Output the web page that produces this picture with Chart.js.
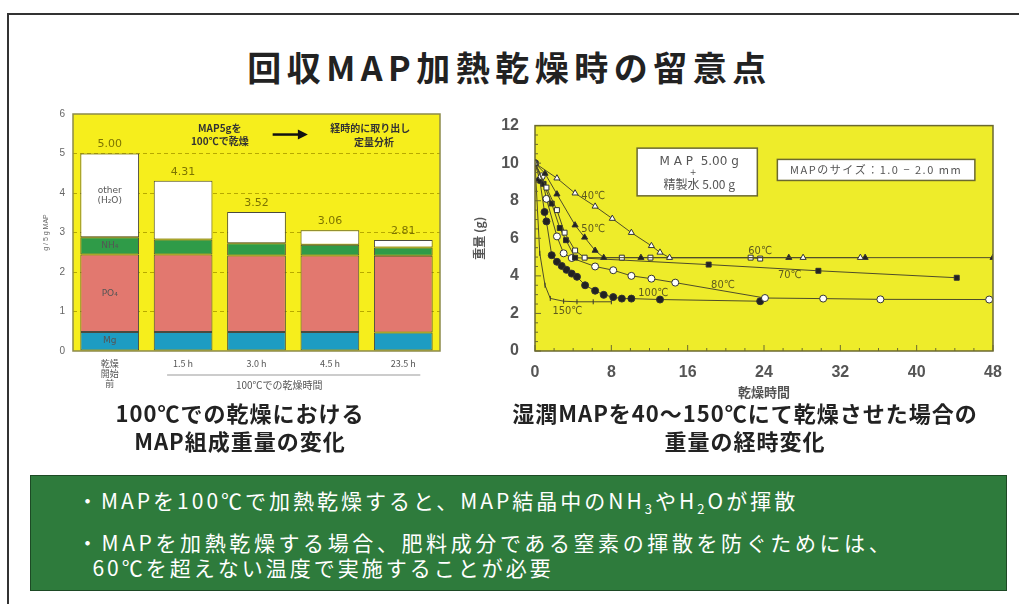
<!DOCTYPE html>
<html>
<head>
<meta charset="utf-8">
<script src="https://cdn.jsdelivr.net/npm/chart.js@4.4.1/dist/chart.umd.min.js"></script>
<style>
  body { margin: 0; width: 1019px; height: 604px; background: #fff; position: relative; overflow: hidden;
         font-family: "Noto Sans CJK JP", "Noto Sans", sans-serif; }
  #frame { position: absolute; left: 7px; top: 13px; width: 1100px; height: 700px;
           border-left: 2px solid #333; border-top: 2px solid #333; }
  #title { position: absolute; top: 42px; left: 0; width: 1019px; text-align: center;
           font-size: 34px; font-weight: bold; letter-spacing: 5.5px; color: #222; }
  .cap { position: absolute; top: 398px; text-align: center; font-size: 22px; line-height: 28px;
         font-weight: bold; letter-spacing: 1px; color: #222; }
  #box { position: absolute; left: 30px; top: 475px; width: 975px; height: 114px; background: #2e7b3c;
         border: 1px solid #1d4a25; color: #fff; font-size: 21px; letter-spacing: 3px; }
  #box p { margin: 0; position: absolute; left: 46px; line-height: 24px; white-space: nowrap; }
  canvas { position: absolute; top: 100px; }
</style>
</head>
<body>
<div id="frame"></div>
<div id="title">回収MAP加熱乾燥時の留意点</div>

<canvas id="barChart" width="430" height="300" style="left:20px"></canvas>
<canvas id="lineChart" width="545" height="300" style="left:470px"></canvas>

<div class="cap" style="left:80px;width:320px">100℃での乾燥における<br>MAP組成重量の変化</div>
<div class="cap" style="left:470px;width:550px">湿潤MAPを40～150℃にて乾燥させた場合の<br>重量の経時変化</div>

<div id="box">
  <p style="top:12px">・MAPを100℃で加熱乾燥すると、MAP結晶中のNH<sub style="font-size:13px">3</sub>やH<sub style="font-size:13px">2</sub>Oが揮散</p>
  <p style="top:54px;letter-spacing:3.6px">・MAPを加熱乾燥する場合、肥料成分である窒素の揮散を防ぐためには、</p>
  <p style="top:79px">&nbsp;&nbsp;60℃を超えない温度で実施することが必要</p>
</div>

<script>
// 左: 100℃乾燥での組成重量 (g / 5 g MAP)
const barLabels = [['乾燥', '開始', '前'], '1.5 h', '3.0 h', '4.5 h', '23.5 h'];
const mgVals    = [0.48, 0.48, 0.48, 0.48, 0.47];
const po4Vals   = [1.96, 1.96, 1.94, 1.94, 1.94];
const nh4Vals   = [0.44, 0.38, 0.31, 0.27, 0.21];
const otherVals = [2.12, 1.49, 0.79, 0.37, 0.19];
const totalVals = [5.00, 4.31, 3.52, 3.06, 2.81];

// 右: 乾燥時間 (h) と重量 (g)
const t40  = [0, 2.3, 4.2, 6.3, 8.1, 10.1, 12.2, 13.1, 14.1, 28.1, 34.1];
const w40  = [10, 9.2, 8.4, 7.7, 7.05, 6.3, 5.6, 5.25, 4.97, 4.97, 4.97];
const t50  = [0, 1.05, 2.3, 4.2, 5.2, 6.3, 7.2, 11.1, 26.6, 34.6, 48];
const w50  = [10, 9.45, 8.35, 6.7, 6.05, 5.35, 4.97, 4.97, 4.97, 4.97, 4.97];
const t60  = [0, 1.2, 2.3, 3.1, 4.2, 5.2, 9.1, 12.1, 22.6, 23.6];
const w60  = [10, 8.7, 7.5, 6.3, 5.35, 4.97, 4.97, 4.97, 4.97, 4.92];
const t70  = [0, 0.9, 1.75, 2.6, 3.25, 4.2, 18.2, 29.7, 44.2];
const w70  = [10, 8.9, 7.85, 6.55, 5.9, 4.97, 4.6, 4.27, 3.9];
const t80  = [0, 0.7, 1.2, 2.3, 3.0, 3.85, 6.3, 8.2, 10.1, 12.2, 14.7, 24.1, 30.2, 36.2, 47.6];
const w80  = [10, 9.3, 8.1, 6.1, 5.2, 4.95, 4.5, 4.3, 4.0, 3.85, 3.64, 2.82, 2.79, 2.75, 2.74];
const t100 = [0, 0.5, 1.0, 1.2, 1.75, 2.3, 2.8, 3.3, 3.85, 4.4, 5.25, 6.3, 7.2, 8.2, 9.1, 10.1, 13.1, 23.6];
const w100 = [10, 9.1, 7.4, 6.9, 5.1, 4.75, 4.53, 4.32, 4.12, 3.95, 3.5, 3.21, 2.99, 2.87, 2.79, 2.79, 2.74, 2.65];
const t150 = [0, 0.5, 1.05, 1.6, 3.0, 4.4, 6.1, 8.0];
const w150 = [10, 5.2, 3.5, 2.8, 2.65, 2.62, 2.62, 2.62];

const pts = (t, w) => t.map((x, i) => ({ x: x, y: w[i] }));

// 背景の黄色と枠
const plotBg = {
    id: 'plotBg',
    beforeDraw(chart, args, opts) {
        const { ctx, chartArea: a } = chart;
        ctx.save();
        ctx.fillStyle = opts.color;
        ctx.fillRect(a.left, a.top, a.right - a.left, a.bottom - a.top);
        ctx.restore();
    },
    afterDatasetsDraw(chart, args, opts) {
        const { ctx, chartArea: a } = chart;
        ctx.save();
        ctx.strokeStyle = opts.frame;
        ctx.lineWidth = 1.5;
        ctx.strokeRect(a.left, a.top, a.right - a.left, a.bottom - a.top);
        ctx.restore();
    }
};

const barNotes = {
    id: 'barNotes',
    afterDatasetsDraw(chart) {
        const { ctx, scales: { x, y }, chartArea: a } = chart;
        ctx.save();
        ctx.textAlign = 'center';
        ctx.textBaseline = 'middle';
        // 合計値
        ctx.font = '11px "DejaVu Sans", sans-serif';
        ctx.fillStyle = '#7d7400';
        totalVals.forEach((v, i) => {
            ctx.fillText(v.toFixed(2), x.getPixelForValue(i), y.getPixelForValue(v) - 9);
        });
        // 成分名 (1本目)
        ctx.font = '9px "DejaVu Sans", sans-serif';
        ctx.fillStyle = '#555';
        const cx = x.getPixelForValue(0);
        ctx.fillText('other', cx, y.getPixelForValue(4.05));
        ctx.fillText('(H₂O)', cx, y.getPixelForValue(3.8));
        ctx.fillText('NH₄', cx, y.getPixelForValue(2.66));
        ctx.fillText('PO₄', cx, y.getPixelForValue(1.45));
        ctx.fillText('Mg', cx, y.getPixelForValue(0.25));
        // 上部の説明
        ctx.font = 'bold 10px "Noto Sans CJK JP", sans-serif';
        ctx.fillStyle = '#333';
        ctx.fillText('MAP5gを', x.getPixelForValue(1.5), y.getPixelForValue(5.65));
        ctx.fillText('100℃で乾燥', x.getPixelForValue(1.5), y.getPixelForValue(5.3));
        ctx.fillText('経時的に取り出し', x.getPixelForValue(3.55), y.getPixelForValue(5.63));
        ctx.fillText('定量分析', x.getPixelForValue(3.6), y.getPixelForValue(5.28));
        // 矢印
        const ay = y.getPixelForValue(5.48);
        const ax0 = x.getPixelForValue(2.22), ax1 = x.getPixelForValue(2.7);
        ctx.strokeStyle = '#111';
        ctx.fillStyle = '#111';
        ctx.lineWidth = 2.5;
        ctx.beginPath(); ctx.moveTo(ax0, ay); ctx.lineTo(ax1 - 8, ay); ctx.stroke();
        ctx.beginPath(); ctx.moveTo(ax1, ay); ctx.lineTo(ax1 - 10, ay - 5); ctx.lineTo(ax1 - 10, ay + 5); ctx.closePath(); ctx.fill();
        // 100℃での乾燥時間
        const ly = a.bottom + 24;
        ctx.strokeStyle = '#999';
        ctx.lineWidth = 1;
        ctx.beginPath();
        ctx.moveTo(x.getPixelForValue(1) - 16, ly);
        ctx.lineTo(x.getPixelForValue(4) + 17, ly);
        ctx.stroke();
        ctx.font = '10px "Noto Sans CJK JP", sans-serif';
        ctx.fillStyle = '#555';
        ctx.fillText('100℃での乾燥時間', x.getPixelForValue(2.5) - 14, ly + 10);
        ctx.restore();
    }
};

new Chart(document.getElementById('barChart'), {
    type: 'bar',
    data: {
        labels: barLabels,
        datasets: [
            { label: 'Mg', data: mgVals, backgroundColor: '#1d9cc2' },
            { label: 'PO4', data: po4Vals, backgroundColor: '#e2786f' },
            { label: 'NH4', data: nh4Vals, backgroundColor: '#2f9b48' },
            { label: 'other', data: otherVals, backgroundColor: '#ffffff' }
        ].map(d => Object.assign(d, { borderColor: '#4a4a40', borderWidth: 1, borderSkipped: false,
                                      barPercentage: 0.8, categoryPercentage: 1 }))
    },
    options: {
        responsive: false,
        animation: false,
        layout: { padding: { top: 13, right: 10 } },
        plugins: { legend: { display: false }, tooltip: { enabled: false },
                   plotBg: { color: '#f6ee1c', frame: '#8c8a4a' } },
        scales: {
            x: {
                stacked: true,
                grid: { display: false, drawTicks: false },
                border: { display: false },
                ticks: { color: '#555', padding: 7, font: { size: 9, lineHeight: 1.15, family: '"Noto Sans CJK JP"' },
                         maxRotation: 0, autoSkip: false },
                afterFit(s) { s.height = 49; }
            },
            y: {
                stacked: true, min: 0, max: 6,
                grid: { color: ctx => (ctx.tick.value > 0 && ctx.tick.value < 6) ? '#b7a900' : 'rgba(0,0,0,0)', drawTicks: false },
                border: { display: false, dash: [4, 3] },
                ticks: { stepSize: 1, color: '#666', padding: 8, font: { size: 10 } },
                title: { display: true, text: 'g / 5 g MAP', color: '#666', font: { size: 7 }, padding: { top: 22, bottom: 0 } },
                afterFit(s) { s.width = 53; }
            }
        }
    },
    plugins: [plotBg, barNotes]
});

const lineNotes = {
    id: 'lineNotes',
    afterDatasetsDraw(chart) {
        const { ctx, scales: { x, y }, chartArea: a } = chart;
        ctx.save();
        // 内向きの目盛り
        ctx.strokeStyle = '#6b6930';
        ctx.lineWidth = 1;
        for (let h = 0; h <= 48; h += 2) {
            const px = x.getPixelForValue(h), len = h % 8 === 0 ? 6 : 3;
            ctx.beginPath(); ctx.moveTo(px, a.bottom); ctx.lineTo(px, a.bottom - len); ctx.stroke();
        }
        for (let g = 0; g <= 12; g += 0.5) {
            const py = y.getPixelForValue(g), len = g % 2 === 0 ? 6 : 3;
            ctx.beginPath(); ctx.moveTo(a.left, py); ctx.lineTo(a.left + len, py); ctx.stroke();
        }
        // 温度ラベル
        ctx.font = '11px "DejaVu Sans Condensed", sans-serif';
        ctx.fillStyle = '#5e5a1e';
        ctx.textAlign = 'center';
        ctx.textBaseline = 'middle';
        [['40℃', 6.1, 8.26], ['50℃', 6.1, 6.5], ['60℃', 23.6, 5.33], ['70℃', 26.7, 4.05],
         ['80℃', 19.7, 3.5], ['100℃', 12.4, 3.08], ['150℃', 3.4, 2.1]].forEach(l => {
            ctx.fillText(l[0], x.getPixelForValue(l[1]), y.getPixelForValue(l[2]));
        });
        // 注記ボックス
        const box = (x0, x1, y0, y1) => {
            const l = x.getPixelForValue(x0), r = x.getPixelForValue(x1);
            const t = y.getPixelForValue(y0), b = y.getPixelForValue(y1);
            ctx.fillStyle = '#fff';
            ctx.fillRect(l, t, r - l, b - t);
            ctx.strokeStyle = '#6b6930';
            ctx.lineWidth = 1.5;
            ctx.strokeRect(l, t, r - l, b - t);
            ctx.fillStyle = '#555';
            return { c: (l + r) / 2, t: t, b: b };
        };
        const b1 = box(10.7, 23.3, 10.8, 8.26);
        ctx.font = '12px "DejaVu Sans", sans-serif';
        ctx.fillText('M A P  5.00 g', b1.c + 2, b1.t + 14);
        ctx.font = '8px "DejaVu Sans", sans-serif';
        ctx.fillText('+', b1.c - 4, b1.t + 25);
        ctx.font = '12px "Noto Sans CJK JP", sans-serif';
        ctx.fillText('精製水 5.00 g', b1.c + 2, b1.t + 36);
        const b2 = box(25.4, 46.1, 10.2, 9.08);
        ctx.font = '11px "Noto Sans CJK JP", sans-serif';
        ctx.letterSpacing = '1.5px';
        ctx.fillText('MAPのサイズ：1.0 − 2.0 mm', b2.c, (b2.t + b2.b) / 2);
        ctx.restore();
    }
};

const lineCol = '#4e4c2a';
const series = (label, t, w, style, fill, r) => ({
    label: label, data: pts(t, w), borderColor: lineCol, borderWidth: 1,
    pointStyle: style, pointRadius: r || 3.5, pointBackgroundColor: fill,
    pointBorderColor: '#333', pointBorderWidth: 1, tension: 0
});

new Chart(document.getElementById('lineChart'), {
    type: 'line',
    data: {
        datasets: [
            series('40℃', t40, w40, 'triangle', '#fff'),
            series('50℃', t50, w50, 'triangle', '#222'),
            series('60℃', t60, w60, 'rect', '#fff'),
            series('70℃', t70, w70, 'rect', '#222'),
            series('80℃', t80, w80, 'circle', '#fff'),
            series('100℃', t100, w100, 'circle', '#222'),
            Object.assign(series('150℃', t150, w150, 'line', '#333', 2.5), { pointRotation: 90 })
        ]
    },
    options: {
        responsive: false,
        animation: false,
        layout: { padding: { top: 17, right: 22 } },
        plugins: { legend: { display: false }, tooltip: { enabled: false },
                   plotBg: { color: '#eeec2a', frame: '#6b6930' } },
        scales: {
            x: {
                type: 'linear', min: 0, max: 48,
                grid: { display: false, drawTicks: false },
                border: { display: false },
                ticks: { stepSize: 8, color: '#555', padding: 12,
                         font: { size: 16, weight: 'bold', family: '"Liberation Sans", Arial' } },
                title: { display: true, text: '乾燥時間', color: '#555', padding: { top: 3, bottom: 0 },
                         font: { size: 13, weight: 'bold', family: '"Noto Sans CJK JP"' } },
                afterFit(s) { s.height = 49; }
            },
            y: {
                min: 0, max: 12,
                grid: { display: false, drawTicks: false },
                border: { display: false },
                ticks: { stepSize: 2, color: '#555', padding: 16,
                         font: { size: 16, weight: 'bold', family: '"Liberation Sans", Arial' } },
                title: { display: true, text: '重量 (g)', color: '#555', padding: { top: 2, bottom: 0 },
                         font: { size: 12, weight: 'bold', family: '"Noto Sans CJK JP"' } },
                afterFit(s) { s.width = 65; }
            }
        }
    },
    plugins: [plotBg, lineNotes]
});
</script>
</body>
</html>
